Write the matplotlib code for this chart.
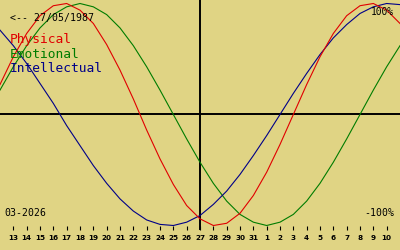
import numpy as np
import matplotlib
matplotlib.use('Agg')
import matplotlib.pyplot as plt

# days shown on the axis (13 March .. 10 April 2026)
day_labels = [str(d) for d in range(13, 32)] + [str(d) for d in range(1, 11)]
today_idx = 14  # 27 March

# curve values, one per day from 12 March to 11 April
physical = [0.27, 0.52, 0.73, 0.89, 0.98, 1.00, 0.94, 0.82, 0.63, 0.40,
            0.14, -0.14, -0.40, -0.63, -0.82, -0.94, -1.00, -0.98, -0.89, -0.73,
            -0.52, -0.27, 0.00, 0.27, 0.52, 0.73, 0.89, 0.98, 1.00, 0.94,
            0.82]
emotional = [0.22, 0.43, 0.62, 0.78, 0.90, 0.97, 1.00, 0.97, 0.90, 0.78,
             0.62, 0.43, 0.22, 0.00, -0.22, -0.43, -0.62, -0.78, -0.90, -0.97,
             -1.00, -0.97, -0.90, -0.78, -0.62, -0.43, -0.22, 0.00, 0.22, 0.43,
             0.62]
intellectual = [0.76, 0.62, 0.46, 0.28, 0.10, -0.10, -0.28, -0.46, -0.62, -0.76,
                -0.87, -0.95, -0.99, -1.00, -0.97, -0.91, -0.81, -0.69, -0.54, -0.37,
                -0.19, 0.00, 0.19, 0.37, 0.54, 0.69, 0.81, 0.91, 0.97, 1.00,
                0.99]

bg = '#e0d484'
c_phy = '#e00000'
c_emo = '#007c00'
c_int = '#000088'

fig = plt.figure(figsize=(4, 2.5), dpi=100, facecolor=bg)
ax = fig.add_axes([0, 0, 1, 1])
ax.set_facecolor(bg)
ax.axis('off')

xc = np.arange(-1, 30)
ax.set_xlim(-1, 29)
ax.set_ylim(-1.2207, 1.0315)

ax.axhline(0, color='black', lw=1.4, zorder=1)
ax.plot([today_idx, today_idx], [1.1, -1.03], color='black', lw=1.4, zorder=1)

ax.plot(xc, physical, color=c_phy, lw=0.8, zorder=3)
ax.plot(xc, emotional, color=c_emo, lw=0.8, zorder=2)
ax.plot(xc, intellectual, color=c_int, lw=0.8, zorder=2)

# day ticks along the bottom
xt = np.arange(len(day_labels))
ax.vlines(xt, -1.0, -1.045, color='black', lw=0.8)
for x, lab in zip(xt, day_labels):
    ax.text(x, -1.1306, lab, ha='center', va='baseline', fontsize=5.2,
            fontweight='bold', family='DejaVu Sans')

mono = 'DejaVu Sans Mono'
def px(xp, yp):
    return xp / 400.0, 1 - yp / 250.0

ax.text(*px(10, 20.7), '<-- 27/05/1987', transform=fig.transFigure,
        fontsize=7.1, family=mono, va='baseline')
ax.text(*px(10, 42.5), 'Physical', transform=fig.transFigure,
        fontsize=9.3, family=mono, va='baseline', color=c_phy)
ax.text(*px(10, 57.5), 'Emotional', transform=fig.transFigure,
        fontsize=9.3, family=mono, va='baseline', color=c_emo)
ax.text(*px(10, 72.5), 'Intellectual', transform=fig.transFigure,
        fontsize=9.3, family=mono, va='baseline', color=c_int)
ax.text(*px(394, 15), '100%', transform=fig.transFigure,
        fontsize=6.9, family=mono, va='baseline', ha='right')
ax.text(*px(394, 215.5), '-100%', transform=fig.transFigure,
        fontsize=7.1, family=mono, va='baseline', ha='right')
ax.text(*px(4, 215.5), '03-2026', transform=fig.transFigure,
        fontsize=7.1, family=mono, va='baseline')

fig.savefig('out.png', dpi=100, facecolor=bg)
